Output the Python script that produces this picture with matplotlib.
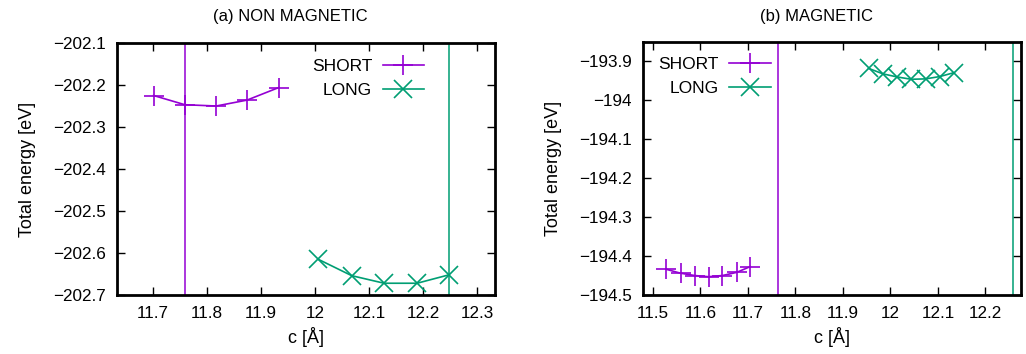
import matplotlib
matplotlib.use("Agg")
import matplotlib.pyplot as plt
from matplotlib.ticker import FuncFormatter, MultipleLocator

plt.rcParams['font.family'] = ['Liberation Sans', 'DejaVu Sans']

PURPLE = '#9400D3'
GREEN = '#009E73'

# (a) NON MAGNETIC
nm_short_c = [11.701, 11.759, 11.817, 11.874, 11.933]
nm_short_e = [-202.225, -202.247, -202.250, -202.236, -202.206]
nm_long_c = [12.006, 12.068, 12.128, 12.189, 12.248]
nm_long_e = [-202.615, -202.654, -202.672, -202.672, -202.652]
nm_vlines = [11.759, 12.248]

# (b) MAGNETIC
m_short_c = [11.528, 11.558, 11.588, 11.617, 11.646, 11.676, 11.705]
m_short_e = [-194.434, -194.444, -194.450, -194.453, -194.450, -194.442, -194.427]
m_long_c = [11.954, 11.984, 12.014, 12.044, 12.074, 12.104, 12.134]
m_long_e = [-193.918, -193.932, -193.940, -193.946, -193.945, -193.939, -193.929]
m_vlines = [11.764, 12.258]

titles = ['(a) NON MAGNETIC', '(b) MAGNETIC']

fig = plt.figure(figsize=(10.26, 3.54), dpi=100)
axL = fig.add_axes([117/1026, 59/354, 378/1026, 252/354])
axR = fig.add_axes([643/1026, 59/354, 378/1026, 253.5/354])

fmt = FuncFormatter(lambda v, p: ('%g' % round(v, 4)).replace('-', '\u2212'))

def draw(ax, sc, se, lc, le, vl, xlim, ylim, legloc, anchor):
    ax.axvline(vl[0], color=PURPLE, lw=1.1)
    ax.axvline(vl[1], color=GREEN, lw=1.1)
    ax.plot(sc, se, color=PURPLE, lw=1.2, marker='+', ms=15, mew=1.2, label='SHORT')
    ax.plot(lc, le, color=GREEN, lw=1.2, marker='x', ms=12.5, mew=1.2, label='LONG')
    ax.set_xlim(*xlim)
    ax.set_ylim(*ylim)
    ax.xaxis.set_major_locator(MultipleLocator(0.1))
    ax.yaxis.set_major_locator(MultipleLocator(0.1))
    ax.xaxis.set_major_formatter(fmt)
    ax.yaxis.set_major_formatter(fmt)
    ax.tick_params(direction='in', top=True, right=True, length=6, width=1,
                   labelsize=12.3, pad=8)
    for s in ax.spines.values():
        s.set_linewidth(2)
    ax.set_xlabel('c [Å]', fontsize=13, labelpad=4)
    ax.set_ylabel('Total energy [eV]', fontsize=13, labelpad=12)
    ax.legend(loc=legloc, bbox_to_anchor=anchor, markerfirst=False, frameon=False,
              fontsize=12.5, handlelength=2.4, labelspacing=0.5, handletextpad=0.6)

draw(axL, nm_short_c, nm_short_e, nm_long_c, nm_long_e, nm_vlines,
     (11.6333, 12.3333), (-202.7, -202.1), 'upper right', (0.854, 1.0))
draw(axR, m_short_c, m_short_e, m_long_c, m_long_e, m_vlines,
     (11.479, 12.275), (-194.5, -193.849), 'upper left', (0.0, 1.0))

fig.text(290/1026, 1 - 17/354, titles[0], ha='center', va='center', fontsize=12)
fig.text(816/1026, 1 - 17/354, titles[1], ha='center', va='center', fontsize=12)

fig.savefig('out.png', dpi=100)
